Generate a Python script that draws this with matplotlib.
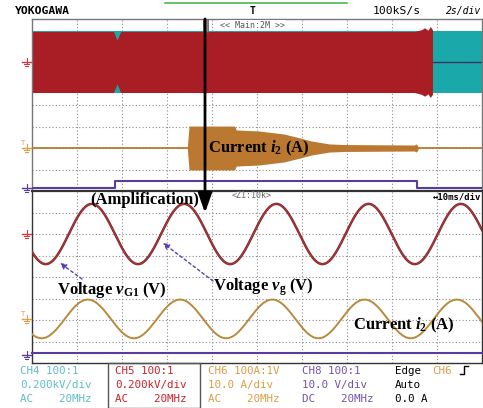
import numpy as np
import matplotlib
matplotlib.use('Agg')
import matplotlib.pyplot as plt
from matplotlib.patches import Rectangle

plt.rcParams['mathtext.fontset'] = 'custom'
plt.rcParams['mathtext.rm'] = 'Liberation Serif:bold'
plt.rcParams['mathtext.it'] = 'Liberation Serif:italic:bold'
plt.rcParams['mathtext.bf'] = 'Liberation Serif:bold'

# ---- main window, 2 s/div (time in s) ----
ch4_peak = 284                      # V, cyan band
ch5_env_t = [0, 3.62, 3.78, 3.94, 17.0, 17.3, 17.45, 17.6, 17.7, 17.8]
ch5_env_v = [284, 284, 205, 284, 284, 300, 318, 296, 330, 300]
i2_env_t = [6.9, 6.98, 9.0, 9.08, 10.1, 11.2, 11.9, 12.4, 13.2, 13.9, 17.0, 17.06, 17.12, 17.18]
i2_env_a = [0, 10.2, 10.2, 8.4, 7.9, 6.5, 4.7, 3.3, 1.9, 1.6, 1.4, 1.9, 1.4, 0]
ch8_t = [0, 3.69, 17.1, 20]
ch8_v = [0, 3.0, 0, 0]

# ---- zoom window, 10 ms/div (time in ms) ----
vg_peak = 280        # V
i2_peak = 9.0        # A
period_ms = 20.5
vg_peak_time = 13.3
i2_peak_time = 12.4
ch8_zoom_v = 3.0

# volts / amps per division and offsets (div)
v_div, a_div, d_div = 200.0, 10.0, 10.0
off_v, off_i, off_d = 2.0, -2.0, -3.85
off_i_zoom = -1.95

RED, CYAN, ORANGE, PURPLE = '#a81e24', '#1ba8aa', '#bb7830', '#5a3c9c'
GRID = '#8c8c8c'

W, H = 483, 408
fig = plt.figure(figsize=(W / 100, H / 100), dpi=100)

def panel(top):
    ax = fig.add_axes([32 / W, (H - top - 172) / H, 450 / W, 172 / H])
    ax.set_xticks([]); ax.set_yticks([])
    ax.set_ylim(-4, 4)
    for s in ax.spines.values():
        s.set_color('#777'); s.set_linewidth(1)
    return ax

ax1 = panel(19)
ax1.set_xlim(0, 20)
for x in range(2, 20, 2):
    ax1.axvline(x, color=GRID, lw=0.8, ls=(0, (1, 2)), zorder=0)
for y in range(-3, 4):
    ax1.axhline(y, color=GRID, lw=0.8, ls=(0, (1, 2)), zorder=0)

ax1.fill_between([0, 20], off_v - ch4_peak / v_div, off_v + ch4_peak / v_div, color=CYAN, lw=0, zorder=1)
ax1.plot([17.8, 20], [off_v, off_v], color='#3a3560', lw=1, zorder=2)
e5 = np.array(ch5_env_v) / v_div
ax1.fill_between(ch5_env_t, off_v - e5, off_v + e5, color=RED, lw=0, zorder=2)

ax1.plot([0, 20], [off_i, off_i], color=ORANGE, lw=1.3, zorder=3)
ei = np.array(i2_env_a) / a_div
ax1.fill_between(i2_env_t, off_i - ei, off_i + ei, color=ORANGE, lw=0, zorder=3)
ax1.step(ch8_t, off_d + np.array(ch8_v) / d_div, where='post', color=PURPLE, lw=1.5, zorder=3)

ax2 = panel(191)
ax2.set_xlim(0, 100)
for s in ax2.spines.values():
    s.set_color('#333')
ax2.spines['top'].set_linewidth(1.6)
for x in range(10, 100, 10):
    ax2.axvline(x, color=GRID, lw=0.8, ls=(0, (1, 2)), zorder=0)
for y in range(-3, 4):
    ax2.axhline(y, color=GRID, lw=0.8, ls=(0, (1, 2)), zorder=0)

t = np.linspace(0, 100, 1000)
vg = vg_peak * np.cos(2 * np.pi * (t - vg_peak_time) / period_ms)
i2 = i2_peak * np.cos(2 * np.pi * (t - i2_peak_time) / period_ms)
ax2.plot(t, off_v + vg / v_div, color='#74302f', lw=1.8, zorder=3)
ax2.plot(t, off_v + vg / v_div, color='#cc2f35', lw=0.6, zorder=4)
ax2.plot(t, off_i_zoom + i2 / a_div, color='#b98a3e', lw=1.4, zorder=3)
ax2.plot([0, 100], [off_d + ch8_zoom_v / d_div] * 2, color=PURPLE, lw=1.5, zorder=3, clip_on=False)

# overlay in pixel units for labels
ov = fig.add_axes([0, 0, 1, 1], zorder=10)
ov.set_xlim(0, W); ov.set_ylim(H, 0); ov.axis('off')

def ypix(ax, y):
    return ov.transData.inverted().transform(ax.transData.transform((0, y)))[1]

def gnd(ax, y, color, trig=False):
    yp = ypix(ax, y)
    ov.plot([22, 31], [yp, yp], color=color, lw=1)
    ov.plot([26.5, 26.5], [yp - 4, yp + 1], color=color, lw=0.8)
    ov.plot([24, 29], [yp + 2, yp + 2], color=color, lw=0.8)
    ov.plot([25, 28], [yp + 4, yp + 4], color=color, lw=0.8)
    if trig:
        ov.text(22, yp - 5, 'T', color=color, fontsize=5, ha='center', va='center')

gnd(ax1, off_v, '#d03a40')
gnd(ax1, off_i, '#d9a048', trig=True)
gnd(ax1, off_d, PURPLE)
gnd(ax2, off_v, '#d03a40')
gnd(ax2, off_i_zoom, '#d9a048', trig=True)
gnd(ax2, off_d + 0.2, PURPLE)

mono = 'DejaVu Sans Mono'
ov.text(15, 11, 'YOKOGAWA', family=mono, fontsize=8.2, fontweight='bold', va='center')
ov.text(373, 11, '100kS/s', family=mono, fontsize=8.2, va='center')
ov.text(481, 11, '2s/div', family=mono, fontsize=7, va='center', ha='right', style='italic')
ov.plot([165, 347], [3, 3], color='#4cba4c', lw=1.2)
ov.text(253, 11, 'T', family=mono, fontsize=7, ha='center', va='center', fontweight='bold')
ov.text(252, 25, '<< Main:2M >>', family=mono, fontsize=6, ha='center', va='center', color='#555',
        bbox=dict(fc='white', ec='none', pad=0.5))
ov.add_patch(Rectangle((203, 19), 5, 13, fc='#888', ec='#555', lw=0.5))
ov.text(232, 196, '<Z1:10k>', family=mono, fontsize=6, va='center', color='#666')
ov.text(481, 197, '\u219410ms/div', family=mono, fontsize=6.4, va='center', ha='right', fontweight='bold')

ov.annotate('', xy=(205, 213), xytext=(205, 19),
            arrowprops=dict(arrowstyle='-|>,head_width=0.35,head_length=1.0', lw=2, color='black',
                            shrinkA=0, shrinkB=0, mutation_scale=12))

serif = dict(family='Liberation Serif', fontweight='bold', fontsize=12, va='center')
ov.text(208, 148, 'Current $i_2$ (A)', **serif)
ov.text(145, 200, '(Amplification)', ha='center', **serif)
ov.text(57, 290, 'Voltage $v_{\\mathrm{G1}}$ (V)', **serif)
ov.text(213, 287, 'Voltage $v_{\\mathrm{g}}$ (V)', **serif)
ov.text(353, 325, 'Current $i_2$ (A)', **serif)

arr = dict(arrowstyle='-|>', ls=(0, (2, 2)), color='#5b3fb0', lw=1, mutation_scale=9, shrinkA=0, shrinkB=0)
ov.annotate('', xy=(60, 263), xytext=(82, 279), arrowprops=arr)
ov.annotate('', xy=(163, 243), xytext=(213, 281), arrowprops=arr)

# bottom channel info
cols = [
    (20, '#5fbcc6', ['CH4 100:1', '0.200kV/div', 'AC    20MHz']),
    (115, '#c8232c', ['CH5 100:1', '0.200kV/div', 'AC    20MHz']),
    (208, '#d89e46', ['CH6 100A:1V', '10.0 A/div', 'AC    20MHz']),
    (302, '#7652a6', ['CH8 100:1', '10.0 V/div', 'DC    20MHz']),
]
rows = [371, 385, 399]
for x, c, lines in cols:
    for y, s in zip(rows, lines):
        ov.text(x, y, s, family=mono, fontsize=7.8, color=c, va='center')
ov.text(395, rows[0], 'Edge', family=mono, fontsize=7.8, va='center')
ov.text(432, rows[0], 'CH6', family=mono, fontsize=7.8, va='center', color='#d89e46')
ov.plot([460, 464, 464, 468], [374, 374, 366, 366], color='black', lw=1)
ov.text(395, rows[1], 'Auto', family=mono, fontsize=7.8, va='center')
ov.text(395, rows[2], '0.0 A', family=mono, fontsize=7.8, va='center')
ov.add_patch(Rectangle((108, 363), 92, 45, fc='none', ec='#555', lw=1))

fig.savefig('out.png', dpi=100)
